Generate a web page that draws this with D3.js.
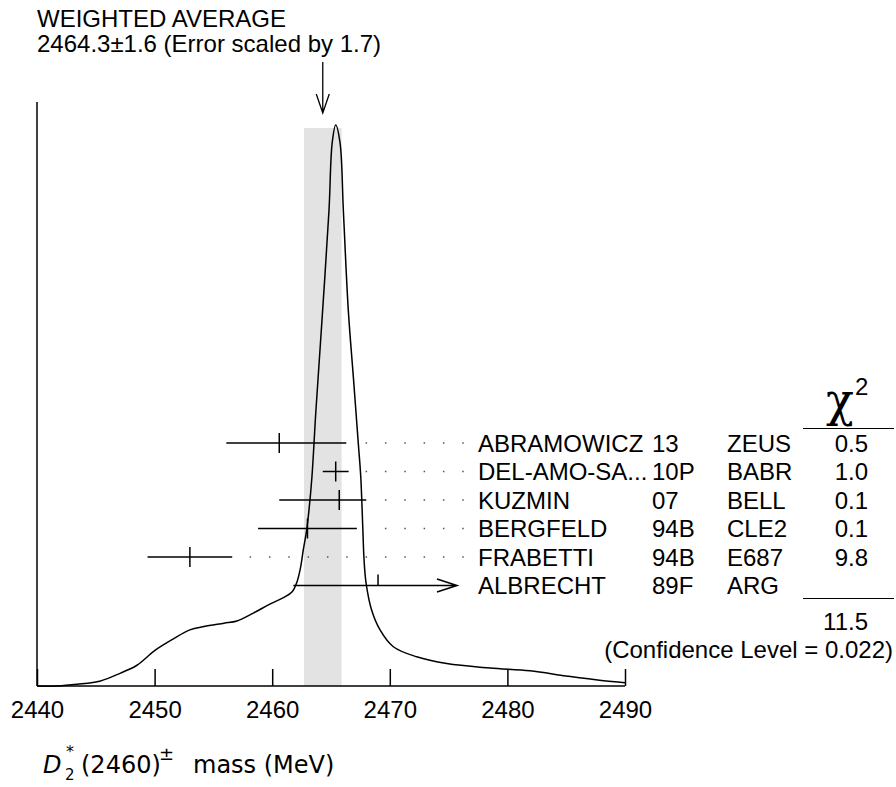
<!DOCTYPE html>
<html>
<head>
<meta charset="utf-8">
<script src="https://cdn.jsdelivr.net/npm/d3@7"></script>
<style>
  body { margin: 0; background: #fff; }
  text { font-family: "Liberation Sans", Arial, Helvetica, sans-serif; fill: #000; }
</style>
</head>
<body>
<script>
// measurements (MeV)
var names = ["ABRAMOWICZ", "DEL-AMO-SA...", "KUZMIN", "BERGFELD", "FRABETTI", "ALBRECHT"];
var years = ["13", "10P", "07", "94B", "94B", "89F"];
var collabs = ["ZEUS", "BABR", "BELL", "CLE2", "E687", "ARG"];
var values = [2460.6, 2465.4, 2465.7, 2463.0, 2453.0, 2469.0];
var errLow = [4.5, 1.1, 5.1, 4.2, 3.6, 7.2];
var errHigh = [5.7, 1.1, 2.3, 4.2, 3.6, 7.2];
var chi2 = ["0.5", "1.0", "0.1", "0.1", "9.8", ""];
var used = [true, true, true, true, true, false];

var average = 2464.3;
var averageErr = 1.6;
var chi2Total = "11.5";
var confLevel = "0.022";

var xTicks = [2440, 2450, 2460, 2470, 2480, 2490];

// ideogram (relative height)
var curveMass = [2440.0, 2441.7, 2443.4, 2445.4, 2447.1, 2448.5, 2450.0, 2451.6, 2453.0, 2454.2,
  2455.9, 2457.0, 2458.4, 2459.8, 2461.0, 2461.7, 2462.1, 2462.4, 2462.64, 2462.93,
  2463.13, 2463.38, 2463.72, 2464.29, 2464.83, 2465.1, 2465.4, 2465.77, 2466.05, 2466.47,
  2466.9, 2467.32, 2467.53, 2467.7, 2467.81, 2467.98, 2468.46, 2469.17, 2470.3, 2472.29,
  2474.84, 2478.52, 2481.92, 2485.0, 2488.0, 2490.0];
var curveHeight = [0.0, 0.0, 0.003, 0.009, 0.023, 0.037, 0.063, 0.084, 0.100, 0.106,
  0.112, 0.116, 0.130, 0.146, 0.158, 0.168, 0.185, 0.21, 0.242, 0.278,
  0.314, 0.373, 0.492, 0.670, 0.848, 0.968, 1.0, 0.968, 0.848, 0.670,
  0.551, 0.433, 0.373, 0.284, 0.225, 0.184, 0.135, 0.100, 0.070, 0.052,
  0.040, 0.032, 0.027, 0.018, 0.010, 0.006];

var w = 896;
var h = 787;
var base = 686;

var svg = d3.select("body").append("svg")
  .attr("width", w)
  .attr("height", h);

var x = d3.scaleLinear().domain([2440, 2490]).range([37, 625]);
var y = d3.scaleLinear().domain([0, 1]).range([base, 125]);
var row = d3.scaleLinear().domain([0, 5]).range([443, 585.5]);

// weighted average band
svg.append("rect")
  .attr("x", x(average - averageErr))
  .attr("y", y(1) + 3)
  .attr("width", x(average + averageErr) - x(average - averageErr))
  .attr("height", base - y(1) - 3)
  .attr("fill", "#e3e3e3");

// ideogram curve
var line = d3.line()
  .x(function(d) { return x(d[0]); })
  .y(function(d) { return y(d[1]); })
  .curve(d3.curveCatmullRom.alpha(0.5));

svg.append("path")
  .datum(d3.zip(curveMass, curveHeight))
  .attr("d", line)
  .attr("fill", "none")
  .attr("stroke", "#000")
  .attr("stroke-width", 1.5);

// axes
var axis = d3.axisBottom(x).tickValues(xTicks).tickSize(-17).tickFormat(d3.format("d"));
var gx = svg.append("g")
  .attr("transform", "translate(0," + base + ")")
  .call(axis);
gx.select(".domain").attr("d", "M" + x(2440) + ",0H" + x(2490)).attr("stroke-width", 1.5);
gx.selectAll(".tick line").attr("stroke-width", 1.5);
gx.selectAll(".tick text")
  .attr("y", 32)
  .attr("dy", 0)
  .style("font-family", "'Liberation Sans', Arial, sans-serif")
  .style("font-size", "24px");

svg.append("line")
  .attr("x1", x(2440)).attr("x2", x(2440))
  .attr("y1", 102).attr("y2", base)
  .attr("stroke", "#000").attr("stroke-width", 1.5);

// header
svg.append("text").attr("x", 37).attr("y", 27).style("font-size", "24px").text("WEIGHTED AVERAGE");
svg.append("text").attr("x", 37).attr("y", 52).style("font-size", "24px")
  .text(average.toFixed(1) + "\u00b1" + averageErr.toFixed(1) + " (Error scaled by 1.7)");

var ax = x(average);
svg.append("path")
  .attr("d", "M" + ax + ",62V113M" + (ax - 6.5) + ",94L" + ax + ",113L" + (ax + 6.5) + ",94")
  .attr("fill", "none").attr("stroke", "#000").attr("stroke-width", 1.3);

// labels column positions
var labelX = 478, yearX = 652, collabX = 727, chiX = 868;

// measurements
names.forEach(function(n, i) {
  var yy = row(i);
  var lo = x(values[i] - errLow[i]);
  var hi = x(values[i] + errHigh[i]);
  var cx = x(values[i]);

  if (used[i]) {
    svg.append("line")
      .attr("x1", lo).attr("x2", hi).attr("y1", yy).attr("y2", yy)
      .attr("stroke", "#000").attr("stroke-width", 1.5);
    svg.append("line")
      .attr("x1", cx).attr("x2", cx).attr("y1", yy - 10).attr("y2", yy + 10)
      .attr("stroke", "#000").attr("stroke-width", 1.5);

    // dotted leader
    for (var d = labelX - 15; d > hi + 13; d -= 19.33) {
      svg.append("rect")
        .attr("x", d - 0.75).attr("y", yy - 0.75)
        .attr("width", 1.5).attr("height", 1.5)
        .attr("fill", "#555");
    }
  } else {
    // not used in the fit: arrow into the label area
    var tip = Math.min(hi, labelX - 21);
    svg.append("path")
      .attr("d", "M" + lo + "," + yy + "H" + tip + "M" + (tip - 20) + "," + (yy - 6.5) +
        "L" + tip + "," + yy + "L" + (tip - 20) + "," + (yy + 6.5))
      .attr("fill", "none").attr("stroke", "#000").attr("stroke-width", 1.5);
    svg.append("line")
      .attr("x1", cx).attr("x2", cx).attr("y1", yy - 11).attr("y2", yy)
      .attr("stroke", "#000").attr("stroke-width", 1.5);
  }

  var ty = yy + 8.7;
  svg.append("text").attr("x", labelX).attr("y", ty).style("font-size", "24px").text(n);
  svg.append("text").attr("x", yearX).attr("y", ty).style("font-size", "24px").text(years[i]);
  svg.append("text").attr("x", collabX).attr("y", ty).style("font-size", "24px").text(collabs[i]);
  svg.append("text").attr("x", chiX).attr("y", ty).attr("text-anchor", "end")
    .style("font-size", "24px").text(chi2[i]);
});

// chi2 column
svg.append("text").attr("x", 826).attr("y", 416)
  .style("font-family", "'DejaVu Serif', 'Liberation Serif', serif")
  .style("font-size", "46px").text("\u03c7");
svg.append("text").attr("x", 855).attr("y", 395).style("font-size", "24px").text("2");
svg.append("line").attr("x1", 803).attr("x2", 894).attr("y1", 428.5).attr("y2", 428.5)
  .attr("stroke", "#000").attr("stroke-width", 1.2);
svg.append("line").attr("x1", 803).attr("x2", 894).attr("y1", 598.5).attr("y2", 598.5)
  .attr("stroke", "#000").attr("stroke-width", 1.2);
svg.append("text").attr("x", chiX).attr("y", 630).attr("text-anchor", "end")
  .style("font-size", "24px").text(chi2Total);
svg.append("text").attr("x", 893).attr("y", 658).attr("text-anchor", "end")
  .style("font-size", "24px").text("(Confidence Level = " + confLevel + ")");

// x axis title
var t = svg.append("text")
  .attr("y", 773)
  .style("font-family", "'DejaVu Sans', sans-serif")
  .style("font-size", "24px");
t.append("tspan").attr("x", 43).style("font-style", "italic").text("D");
t.append("tspan").attr("x", 66).attr("y", 757).style("font-size", "16px").text("*");
t.append("tspan").attr("x", 65).attr("y", 780).style("font-size", "15px").text("2");
t.append("tspan").attr("x", 81).attr("y", 773).text("(2460)");
t.append("tspan").attr("x", 159).attr("y", 760).style("font-size", "18px").text("\u00b1");
t.append("tspan").attr("x", 193).attr("y", 773).text("mass (MeV)");
</script>
</body>
</html>
